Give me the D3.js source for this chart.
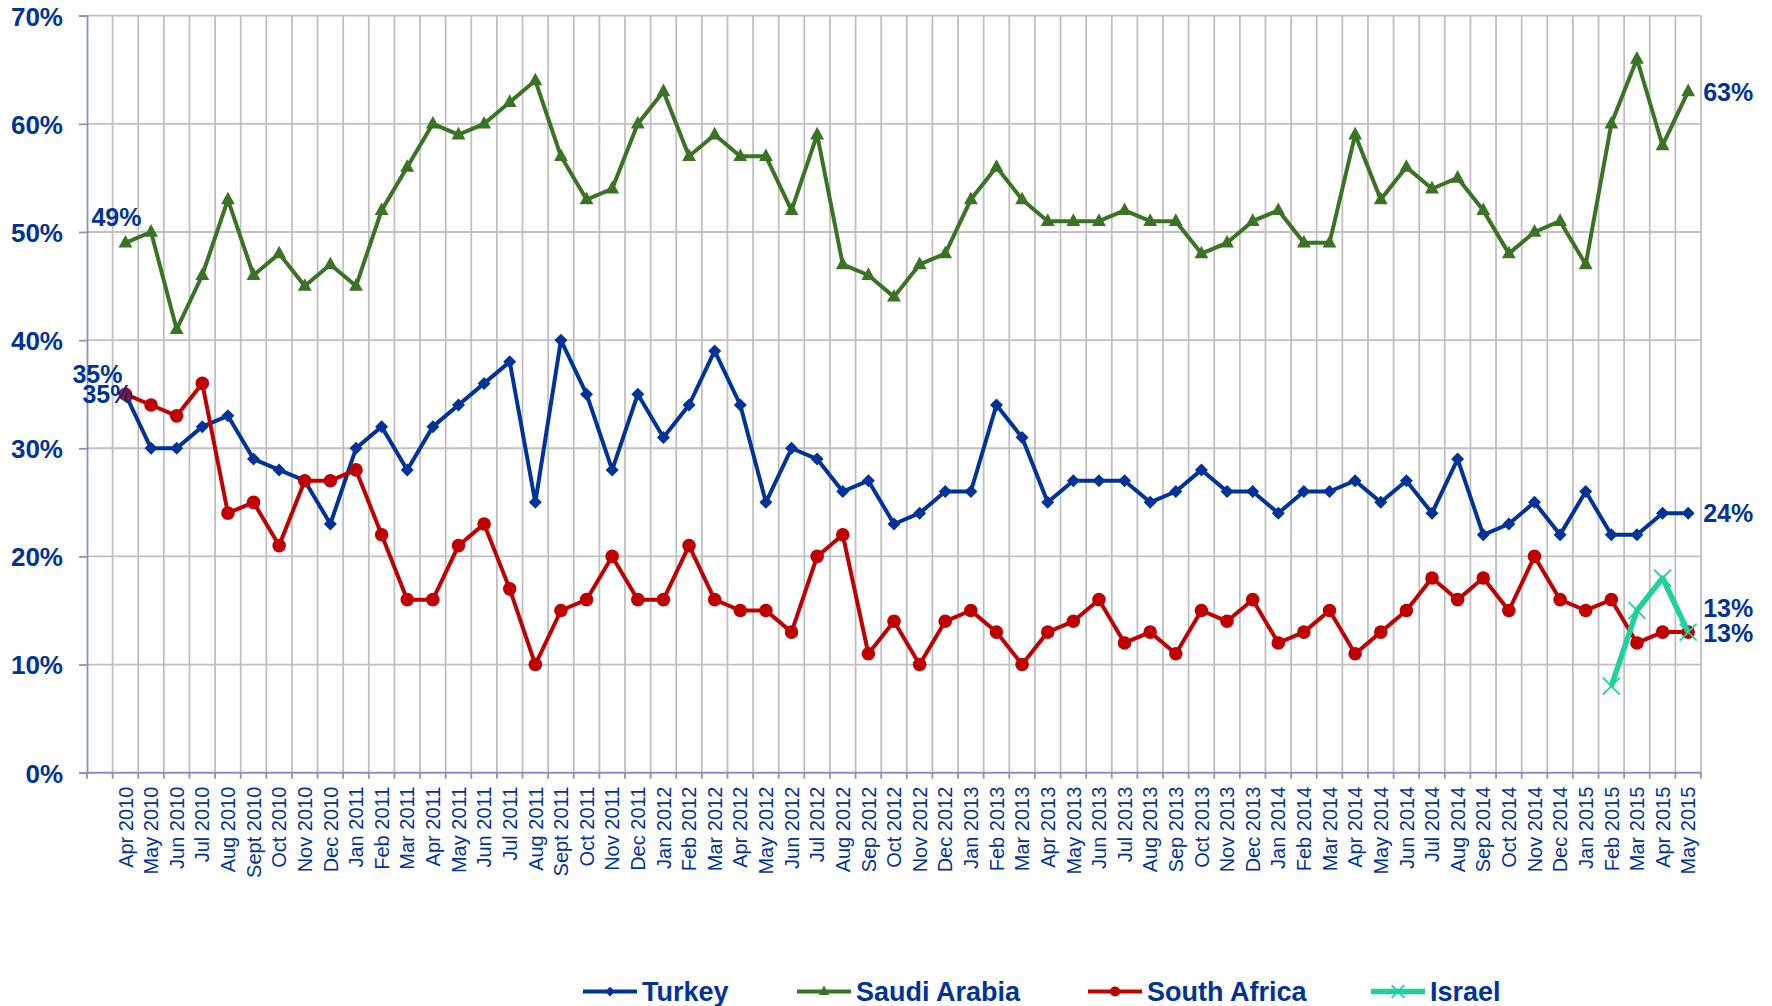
<!DOCTYPE html>
<html>
<head>
<meta charset="utf-8">
<script src="https://cdn.jsdelivr.net/npm/d3@7"></script>
<style>
  html, body { margin: 0; padding: 0; background: #ffffff; }
  svg { display: block; font-family: "Liberation Sans", Arial, sans-serif; }
</style>
</head>
<body>
<svg id="chart" width="1772" height="1006"></svg>
<script>
// Monthly survey months (x categories)
const months = [
  "Apr 2010","May 2010","Jun 2010","Jul 2010","Aug 2010","Sept 2010","Oct 2010","Nov 2010","Dec 2010",
  "Jan 2011","Feb 2011","Mar 2011","Apr 2011","May 2011","Jun 2011","Jul 2011","Aug 2011","Sept 2011","Oct 2011","Nov 2011","Dec 2011",
  "Jan 2012","Feb 2012","Mar 2012","Apr 2012","May 2012","Jun 2012","Jul 2012","Aug 2012","Sep 2012","Oct 2012","Nov 2012","Dec 2012",
  "Jan 2013","Feb 2013","Mar 2013","Apr 2013","May 2013","Jun 2013","Jul 2013","Aug 2013","Sep 2013","Oct 2013","Nov 2013","Dec 2013",
  "Jan 2014","Feb 2014","Mar 2014","Apr 2014","May 2014","Jun 2014","Jul 2014","Aug 2014","Sep 2014","Oct 2014","Nov 2014","Dec 2014",
  "Jan 2015","Feb 2015","Mar 2015","Apr 2015","May 2015"
];

// Series values, in percent
const turkey = [
  35,30,30,32,33,29,28,27,23,
  30,32,28,32,34,36,38,25,40,35,28,35,
  31,34,39,34,25,30,29,26,27,23,24,26,
  26,34,31,25,27,27,27,25,26,28,26,26,
  24,26,26,27,25,27,24,29,22,23,25,22,
  26,22,22,24,24
];
const saudiArabia = [
  49,50,41,46,53,46,48,45,47,
  45,52,56,60,59,60,62,64,57,53,54,60,
  63,57,59,57,57,52,59,47,46,44,47,48,
  53,56,53,51,51,51,52,51,51,48,49,51,
  52,49,49,59,53,56,54,55,52,48,50,51,
  47,60,66,58,63
];
const southAfrica = [
  35,34,33,36,24,25,21,27,27,
  28,22,16,16,21,23,17,10,15,16,20,16,
  16,21,16,15,15,13,20,22,11,14,10,14,
  15,13,10,13,14,16,12,13,11,15,14,16,
  12,13,15,11,13,15,18,16,18,15,20,16,
  15,16,12,13,13
];
const israelMonths = ["Feb 2015","Mar 2015","Apr 2015","May 2015"];
const israel = [8,15,18,13];

const yTicks = [0,10,20,30,40,50,60,70];
const seriesNames = ["Turkey","Saudi Arabia","South Africa","Israel"];

// ---- layout ----
const svg = d3.select("#chart");
const plotLeft = 87, plotRight = 1701, plotTop = 15.7, plotBottom = 772.7;
const slots = months.length + 1;               // one empty slot before the first month
const bw = (plotRight - plotLeft) / slots;

const x = d3.scaleBand().domain(months).range([plotLeft + bw, plotRight]).padding(0);
const cx = m => x(m) + x.bandwidth() / 2;
const y = d3.scaleLinear().domain([0, 70]).range([plotBottom, plotTop]);

const textBlue = "#003399";
const gridGray = "#c0c0c0";
const axisColor = "#8a90c0";

// ---- grid ----
const grid = svg.append("g");
grid.selectAll("line.h").data(yTicks.filter(t => t > 0)).join("line")
  .attr("x1", plotLeft).attr("x2", plotRight)
  .attr("y1", d => y(d)).attr("y2", d => y(d))
  .attr("stroke", gridGray).attr("stroke-width", 1.8);
grid.selectAll("line.v").data(d3.range(1, slots + 1)).join("line")
  .attr("x1", i => plotLeft + i * bw).attr("x2", i => plotLeft + i * bw)
  .attr("y1", plotTop).attr("y2", plotBottom)
  .attr("stroke", gridGray).attr("stroke-width", 1.8);

// ---- axes ----
const yAxis = d3.axisLeft(y).tickValues(yTicks).tickSize(8).tickFormat(d => d + "%");
const gy = svg.append("g").attr("transform", `translate(${plotLeft},0)`).call(yAxis);
gy.select(".domain").attr("stroke", axisColor).attr("stroke-width", 1.8);
gy.selectAll(".tick line").attr("stroke", axisColor).attr("stroke-width", 1.8);
gy.selectAll(".tick text")
  .attr("x", -24).attr("dy", "0.36em")
  .attr("fill", textBlue).attr("font-size", 26).attr("font-weight", "bold")
  .attr("font-family", "'Liberation Sans', Arial, sans-serif");

// bottom axis: ticks at every slot boundary
const gx = svg.append("g");
gx.append("line").attr("x1", plotLeft).attr("x2", plotRight).attr("y1", plotBottom).attr("y2", plotBottom)
  .attr("stroke", axisColor).attr("stroke-width", 2);
gx.selectAll("line.t").data(d3.range(0, slots + 1)).join("line")
  .attr("x1", i => plotLeft + i * bw).attr("x2", i => plotLeft + i * bw)
  .attr("y1", plotBottom).attr("y2", plotBottom + 6)
  .attr("stroke", axisColor).attr("stroke-width", 1.8);
gx.selectAll("text").data(months).join("text")
  .attr("transform", m => `translate(${cx(m)},${plotBottom + 14}) rotate(-90)`)
  .attr("text-anchor", "end").attr("dy", "0.36em")
  .attr("fill", textBlue).attr("font-size", 20)
  .text(m => m);

// ---- marker shapes ----
const markers = {
  diamond: (g, s) => g.append("path").attr("d", `M0,${-s}L${s},0L0,${s}L${-s},0Z`),
  triangle: (g, s) => g.append("path").attr("d", `M0,${-s * 1.25}L${s * 1.1},${s * 0.75}L${-s * 1.1},${s * 0.75}Z`),
  circle: (g, s) => g.append("circle").attr("r", s),
  cross: (g, s) => g.append("path").attr("d", `M${-s},${-s}L${s},${s}M${-s},${s}L${s},${-s}`)
};

const series = [
  { name: seriesNames[0], cats: months, vals: turkey, color: "#003399", width: 4, marker: "diamond", size: 6.5 },
  { name: seriesNames[1], cats: months, vals: saudiArabia, color: "#3a7324", width: 4, marker: "triangle", size: 6.3 },
  { name: seriesNames[2], cats: months, vals: southAfrica, color: "#c00000", width: 4, marker: "circle", size: 6.8 },
  { name: seriesNames[3], cats: israelMonths, vals: israel, color: "#1fd19c", width: 5.5, marker: "cross", size: 8.5 }
];

const line = d3.line().x(d => cx(d.c)).y(d => y(d.v));

series.forEach(s => {
  const pts = s.cats.map((c, i) => ({ c, v: s.vals[i] }));
  const g = svg.append("g");
  g.append("path").datum(pts).attr("d", line)
    .attr("fill", "none").attr("stroke", s.color).attr("stroke-width", s.width)
    .attr("stroke-linejoin", "round");
  pts.forEach(p => {
    const mg = g.append("g").attr("transform", `translate(${cx(p.c)},${y(p.v)})`);
    const el = markers[s.marker](mg, s.size);
    if (s.marker === "cross") el.attr("fill", "none").attr("stroke", s.color).attr("stroke-width", 1.8);
    else el.attr("fill", s.color);
  });
});

// ---- value labels at the first and last months ----
const valueLabels = [
  { s: 1, m: "Apr 2010", anchor: "middle", dx: -9, dy: -17 },
  { s: 2, m: "Apr 2010", anchor: "middle", dx: -28, dy: -11 },
  { s: 0, m: "Apr 2010", anchor: "middle", dx: -18, dy: 9 },
  { s: 1, m: "May 2015", anchor: "start", dx: 15, dy: 10 },
  { s: 0, m: "May 2015", anchor: "start", dx: 15, dy: 9 },
  { s: 3, m: "May 2015", anchor: "start", dx: 15, dy: -15 },
  { s: 2, m: "May 2015", anchor: "start", dx: 15, dy: 10 }
];
svg.append("g").selectAll("text").data(valueLabels).join("text")
  .attr("x", d => cx(d.m) + d.dx)
  .attr("y", d => y(series[d.s].vals[series[d.s].cats.indexOf(d.m)]) + d.dy)
  .attr("text-anchor", d => d.anchor)
  .attr("fill", textBlue).attr("font-size", 25).attr("font-weight", "bold")
  .text(d => series[d.s].vals[series[d.s].cats.indexOf(d.m)] + "%");

// ---- legend ----
const legendX = [583, 797, 1088, 1371];
const legendY = 991.5;
const lg = svg.append("g");
series.forEach((s, i) => {
  const g = lg.append("g").attr("transform", `translate(${legendX[i]},${legendY})`);
  g.append("line").attr("x1", 0).attr("x2", 54).attr("y1", 0).attr("y2", 0)
    .attr("stroke", s.color).attr("stroke-width", s.width);
  const mg = g.append("g").attr("transform", "translate(27,0)");
  const el = markers[s.marker](mg, s.size * 0.75);
  if (s.marker === "cross") el.attr("fill", "none").attr("stroke", s.color).attr("stroke-width", 1.8);
  else el.attr("fill", s.color);
  g.append("text").attr("x", 59).attr("y", 9.5)
    .attr("fill", textBlue).attr("font-size", 27).attr("font-weight", "bold")
    .text(s.name);
});
</script>
</body>
</html>
